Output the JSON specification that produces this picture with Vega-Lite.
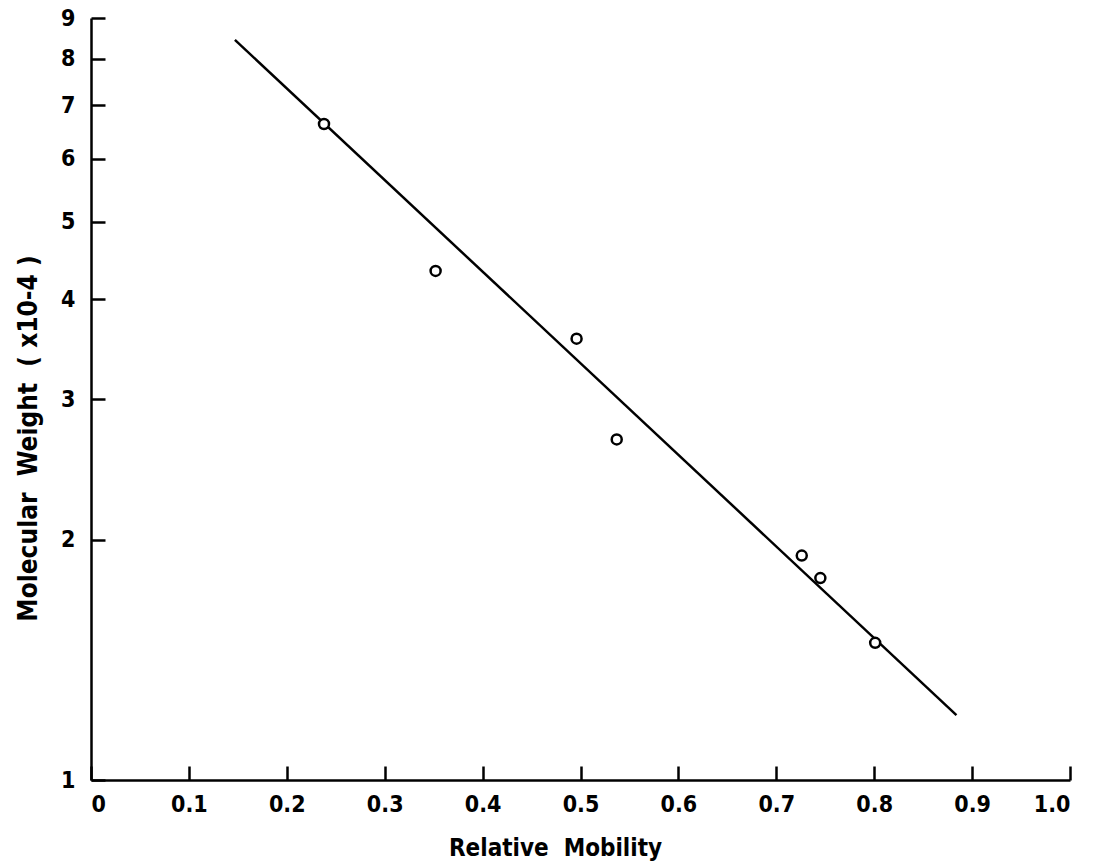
{
  "$schema": "https://vega.github.io/schema/vega-lite/v6.json",
  "width": 979,
  "height": 762,
  "autosize": "none",
  "padding": {"left": 91, "top": 18, "right": 30, "bottom": 84},
  "background": "white",
  "config": {
    "view": {"stroke": null},
    "font": "'Liberation Sans Narrow', 'DejaVu Sans Condensed', 'DejaVu Sans'",
    "axis": {
      "grid": false,
      "domainColor": "black",
      "domainWidth": 2.5,
      "tickColor": "black",
      "tickWidth": 2.5,
      "tickSize": -14,
      "labelFont": "'Liberation Sans Narrow', 'DejaVu Sans Condensed', 'DejaVu Sans'",
      "labelFontWeight": "bold",
      "labelFontSize": 23,
      "labelColor": "black",
      "titleFont": "'Liberation Sans Narrow', 'DejaVu Sans Condensed', 'DejaVu Sans'",
      "titleFontWeight": "bold",
      "titleFontSize": 24,
      "titleColor": "black"
    }
  },
  "datasets": {
    "points": [
      {"mobility": 0.238, "mw": 6.63},
      {"mobility": 0.352, "mw": 4.34},
      {"mobility": 0.496, "mw": 3.57},
      {"mobility": 0.537, "mw": 2.67},
      {"mobility": 0.726, "mw": 1.91},
      {"mobility": 0.745, "mw": 1.79},
      {"mobility": 0.801, "mw": 1.485}
    ],
    "fit": [
      {"mobility": 0.147, "mw": 8.45},
      {"mobility": 0.884, "mw": 1.206}
    ]
  },
  "layer": [
    {
      "data": {"name": "fit"},
      "mark": {"type": "line", "color": "black", "strokeWidth": 2.5},
      "encoding": {
        "x": {"field": "mobility", "type": "quantitative"},
        "y": {"field": "mw", "type": "quantitative"}
      }
    },
    {
      "data": {"name": "points"},
      "mark": {"type": "point", "shape": "circle", "filled": true, "fill": "white", "stroke": "black", "strokeWidth": 2.5, "size": 100, "opacity": 1},
      "encoding": {
        "x": {
          "field": "mobility",
          "type": "quantitative",
          "scale": {"domain": [0, 1], "nice": false, "zero": false},
          "axis": {
            "values": [0, 0.1, 0.2, 0.3, 0.4, 0.5, 0.6, 0.7, 0.8, 0.9, 1.0],
            "labelExpr": "datum.value == 0 ? '0' : format(datum.value, '.1f')",
            "labelPadding": 27,
            "title": "Relative\u00a0\u00a0Mobility",
            "titleY": 68,
            "titleX": 464,
            "titleBaseline": "middle"
          }
        },
        "y": {
          "field": "mw",
          "type": "quantitative",
          "scale": {"type": "log", "domain": [1, 9], "nice": false},
          "axis": {
            "values": [1, 2, 3, 4, 5, 6, 7, 8, 9],
            "format": "d",
            "labelPadding": 30,
            "title": "Molecular\u00a0\u00a0Weight\u00a0\u00a0(\u00a0x10-4\u00a0)",
            "titleFontSize": 26,
            "titleX": -63,
            "titleY": 420,
            "titleBaseline": "middle"
          }
        }
      }
    }
  ]
}
